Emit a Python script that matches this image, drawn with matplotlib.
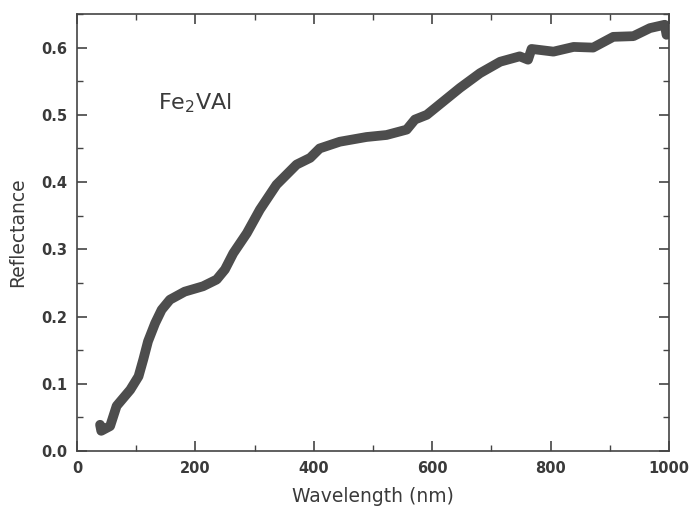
import numpy as np
import matplotlib.pyplot as plt
from matplotlib.ticker import MultipleLocator

# values
wavelength = [39, 41, 56, 67, 90, 104, 112, 120, 132, 143, 157, 182, 213, 236,
              250, 264, 287, 309, 337, 371, 394, 410, 444, 489, 523, 557, 571,
              591, 619, 647, 681, 715, 748, 762, 768, 805, 839, 872, 906, 940,
              968, 993, 996]
reflectance = [0.039, 0.030, 0.037, 0.067, 0.091, 0.111, 0.136, 0.163, 0.190,
               0.210, 0.225, 0.237, 0.245, 0.255, 0.270, 0.294, 0.324, 0.359,
               0.396, 0.426, 0.436, 0.450, 0.460, 0.467, 0.470, 0.478, 0.493,
               0.500, 0.520, 0.540, 0.562, 0.579, 0.587, 0.582, 0.598, 0.594,
               0.601, 0.600, 0.616, 0.617, 0.629, 0.634, 0.619]

sample_label = 'Fe$_\\mathregular{2}$VAl'
x_ticks = [0, 200, 400, 600, 800, 1000]
y_ticks = [0.0, 0.1, 0.2, 0.3, 0.4, 0.5, 0.6]

text_color = '#3a3a3a'
fig = plt.figure(figsize=(6.91, 5.14), dpi=100)
ax = fig.add_axes([0.1114, 0.1226, 0.8566, 0.8502])

ax.plot(wavelength, reflectance, '-', color='#4d4d4d', lw=7,
        solid_capstyle='round', solid_joinstyle='round')

ax.text(137, 0.517, sample_label, fontsize=16, color=text_color, va='center')

ax.set_xlim(0, 1000)
ax.set_ylim(0, 0.65)
ax.set_xticks(x_ticks)
ax.set_yticks(y_ticks)
ax.set_yticklabels(['%.1f' % v for v in y_ticks])
ax.xaxis.set_minor_locator(MultipleLocator(100))
ax.yaxis.set_minor_locator(MultipleLocator(0.05))
ax.tick_params(which='both', direction='in', top=True, right=True,
               color='#444444', labelcolor=text_color, labelsize=10.5)
ax.tick_params(which='major', length=7, width=1.2, pad=7)
ax.tick_params(which='minor', length=4, width=1.0)
for lbl in ax.get_xticklabels() + ax.get_yticklabels():
    lbl.set_fontweight('bold')
for sp in ax.spines.values():
    sp.set_color('#444444')
    sp.set_linewidth(1.2)

ax.set_xlabel('Wavelength (nm)', fontsize=13.5, color=text_color, labelpad=8)
ax.set_ylabel('Reflectance', fontsize=13.5, color=text_color, labelpad=10)

fig.savefig('out.png', dpi=100)
